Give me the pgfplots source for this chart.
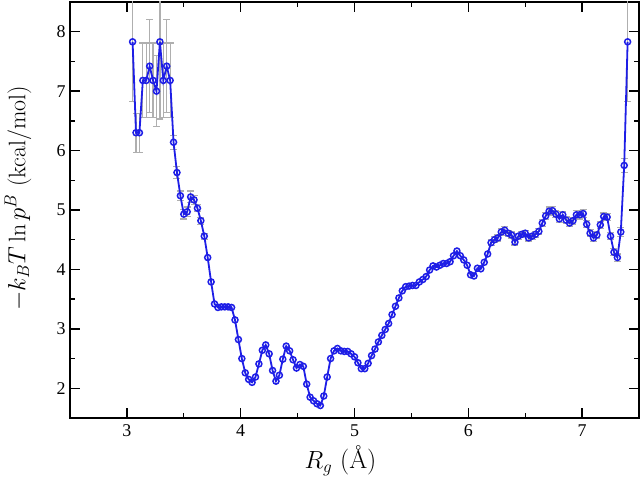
\documentclass[border=0pt]{standalone}
\usepackage{fontspec}
\usepackage{pgfplots}
\pgfplotsset{compat=1.18}
\newfontfamily\tmsfont{Liberation Serif}
\definecolor{lineblue}{RGB}{30,30,230}
\definecolor{errgray}{RGB}{175,175,175}

\begin{document}
\begin{tikzpicture}
\begin{axis}[
  scale only axis,
  width=569bp, height=416bp,
  xmin=2.5, xmax=7.5, ymin=1.5, ymax=8.5,
  xtick={3,4,5,6,7}, ytick={2,3,4,5,6,7,8},
  minor x tick num=1, minor y tick num=1,
  tick align=inside,
  major tick length=10bp, minor tick length=5bp,
  tick style={black, line width=1.3bp},
  axis line style={line width=1.5bp},
  /pgf/number format/assume math mode=true,
  tick label style={font=\tmsfont\fontsize{18}{20}\selectfont},
  xticklabel style={yshift=-3bp},
  yticklabel style={xshift=-1bp},
  xlabel={$R_g$ (\AA)},
  ylabel={$-k_BT\ln p^B$ (kcal/mol)},
  xlabel style={font=\fontsize{26}{28}\selectfont, at={(axis description cs:0.5,0)}, anchor=center, yshift=-43bp, xshift=-14bp},
  ylabel style={font=\fontsize{24}{26}\selectfont, at={(axis description cs:0,0.5)}, anchor=center, yshift=52bp, xshift=12bp},
]
\addplot[errgray, line width=1bp, mark=none, draw=none,
  error bars/.cd, y dir=both, y explicit,
  error bar style={errgray, line width=1.2bp},
  error mark options={errgray, rotate=90, mark size=3.5bp, line width=1.2bp}]
  table[x=x, y=y, y error=e] {
x y e
3.05 7.83 1.00
3.08 6.30 0.33
3.11 6.30 0.33
3.14 7.18 0.63
3.17 7.18 0.63
3.20 7.42 0.78
3.23 7.18 0.63
3.26 7.00 0.60
3.29 7.83 1.30
3.32 7.18 0.63
3.35 7.42 0.78
3.38 7.18 0.63
3.41 6.14 0.12
3.44 5.63 0.10
3.47 5.24 0.08
3.50 4.93 0.08
3.53 4.97 0.08
3.56 5.22 0.10
3.59 5.17 0.08
3.62 5.03 0.06
3.65 4.82 0.06
3.68 4.56 0.05
6.20 4.45 0.05
6.23 4.50 0.05
6.26 4.53 0.05
6.29 4.63 0.06
6.32 4.66 0.06
6.35 4.61 0.05
6.38 4.58 0.05
6.41 4.46 0.05
6.44 4.56 0.05
6.47 4.59 0.05
6.50 4.61 0.05
6.53 4.53 0.05
6.56 4.56 0.05
6.59 4.59 0.05
6.62 4.64 0.05
6.65 4.78 0.06
6.68 4.90 0.06
6.71 4.98 0.07
6.74 4.99 0.07
6.77 4.93 0.06
6.80 4.85 0.06
6.83 4.92 0.06
6.86 4.83 0.06
6.89 4.78 0.06
6.92 4.82 0.06
6.95 4.92 0.07
6.98 4.92 0.07
7.01 4.94 0.07
7.04 4.76 0.06
7.07 4.61 0.06
7.10 4.53 0.06
7.13 4.58 0.06
7.16 4.75 0.06
7.19 4.89 0.06
7.22 4.88 0.06
7.25 4.56 0.06
7.28 4.29 0.06
7.31 4.20 0.06
7.34 4.63 0.08
7.37 5.75 0.12
7.40 7.83 1.00
};
\addplot[lineblue, line width=1.8bp, mark=o,
  mark options={lineblue, fill=white, line width=1.5bp}, mark size=3bp]
  coordinates {
(3.05,7.83) (3.08,6.30) (3.11,6.30) (3.14,7.18) (3.17,7.18) (3.20,7.42)
(3.23,7.18) (3.26,7.00) (3.29,7.83) (3.32,7.18) (3.35,7.42) (3.38,7.18)
(3.41,6.14) (3.44,5.63) (3.47,5.24) (3.50,4.93) (3.53,4.97) (3.56,5.22)
(3.59,5.17) (3.62,5.03) (3.65,4.82) (3.68,4.56) (3.71,4.20) (3.74,3.79)
(3.77,3.42) (3.80,3.36) (3.83,3.37) (3.86,3.37) (3.89,3.37) (3.92,3.36)
(3.95,3.15) (3.98,2.82) (4.01,2.50) (4.04,2.26) (4.07,2.15) (4.10,2.10)
(4.13,2.19) (4.16,2.41) (4.19,2.64) (4.22,2.73) (4.25,2.58) (4.28,2.30)
(4.31,2.12) (4.34,2.22) (4.37,2.49) (4.40,2.71) (4.43,2.63) (4.46,2.48)
(4.49,2.34) (4.52,2.40) (4.55,2.37) (4.58,2.07) (4.61,1.85) (4.64,1.79)
(4.67,1.74) (4.70,1.71) (4.73,1.87) (4.76,2.19) (4.79,2.50) (4.82,2.63)
(4.85,2.67) (4.88,2.63) (4.91,2.62) (4.94,2.62) (4.97,2.58) (5.00,2.53)
(5.03,2.43) (5.06,2.33) (5.09,2.33) (5.12,2.42) (5.15,2.55) (5.18,2.66)
(5.21,2.78) (5.24,2.89) (5.27,2.99) (5.30,3.09) (5.33,3.24) (5.36,3.38)
(5.39,3.52) (5.42,3.64) (5.45,3.71) (5.48,3.72) (5.51,3.73) (5.54,3.73)
(5.57,3.79) (5.60,3.83) (5.63,3.88) (5.66,3.99) (5.69,4.06) (5.72,4.04)
(5.75,4.07) (5.78,4.10) (5.81,4.10) (5.84,4.13) (5.87,4.23) (5.90,4.31)
(5.93,4.23) (5.96,4.16) (5.99,4.07) (6.02,3.91) (6.05,3.89) (6.08,4.02)
(6.11,4.01) (6.14,4.12) (6.17,4.26) (6.20,4.45) (6.23,4.50) (6.26,4.53)
(6.29,4.63) (6.32,4.66) (6.35,4.61) (6.38,4.58) (6.41,4.46) (6.44,4.56)
(6.47,4.59) (6.50,4.61) (6.53,4.53) (6.56,4.56) (6.59,4.59) (6.62,4.64)
(6.65,4.78) (6.68,4.90) (6.71,4.98) (6.74,4.99) (6.77,4.93) (6.80,4.85)
(6.83,4.92) (6.86,4.83) (6.89,4.78) (6.92,4.82) (6.95,4.92) (6.98,4.92)
(7.01,4.94) (7.04,4.76) (7.07,4.61) (7.10,4.53) (7.13,4.58) (7.16,4.75)
(7.19,4.89) (7.22,4.88) (7.25,4.56) (7.28,4.29) (7.31,4.20) (7.34,4.63)
(7.37,5.75) (7.40,7.83)
};
\coordinate (bl) at (rel axis cs:0,0);
\coordinate (tr) at (rel axis cs:1,1);
\end{axis}
\pgfresetboundingbox
\path ([shift={(-70bp,-60bp)}]bl) rectangle ([shift={(2bp,2bp)}]tr);
\end{tikzpicture}
\end{document}
